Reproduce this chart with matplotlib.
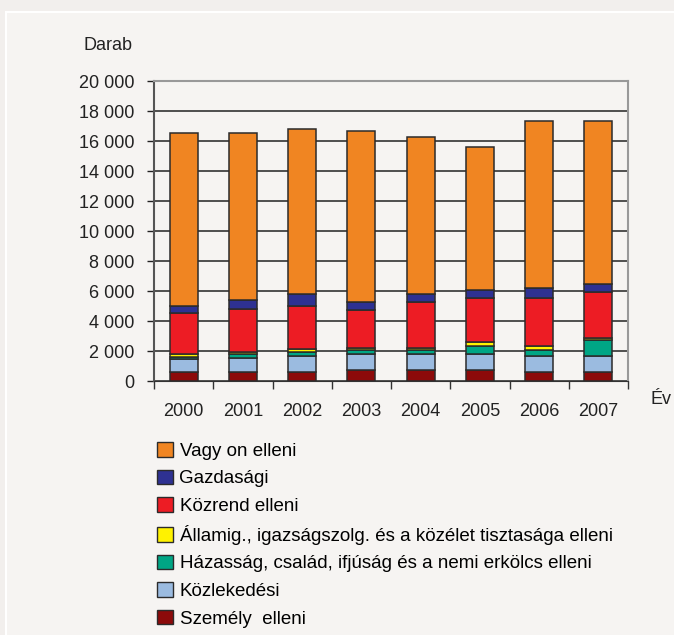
import matplotlib
matplotlib.use('Agg')
import matplotlib.pyplot as plt
from matplotlib.patches import Patch, Rectangle
from matplotlib.ticker import FuncFormatter, FixedLocator

plt.rcParams['font.family'] = ['Liberation Sans', 'DejaVu Sans']

years = ['2000', '2001', '2002', '2003', '2004', '2005', '2006', '2007']

# bottom to top of the stack
szemely = [600, 600, 600, 750, 750, 750, 600, 600]
kozlekedesi = [850, 960, 1090, 1070, 1070, 1070, 1090, 1090]
hazassag = [130, 260, 260, 260, 260, 530, 390, 1070]
allamig = [240, 130, 160, 140, 140, 270, 270, 130]
kozrend = [2690, 2830, 2910, 2530, 3070, 2940, 3210, 3070]
gazdasagi = [510, 620, 800, 540, 530, 530, 660, 530]
vagyon = [11490, 11110, 10960, 11360, 10430, 9490, 11090, 10820]

series = [
    ('Személy  elleni', szemely, '#8c0a0a'),
    ('Közlekedési', kozlekedesi, '#9bbbe0'),
    ('Házasság, család, ifjúság és a nemi erkölcs elleni', hazassag, '#00a685'),
    ('Államig., igazságszolg. és a közélet tisztasága elleni', allamig, '#fff200'),
    ('Közrend elleni', kozrend, '#ed1c24'),
    ('Gazdasági', gazdasagi, '#2e3192'),
    ('Vagy on elleni', vagyon, '#f08522'),
]

bg = '#f6f4f2'
fs = 13
fig = plt.figure(figsize=(6.74, 6.35), dpi=100, facecolor='#f2efed')
fig.patches.append(Rectangle((6 / 674, -0.1), 1.2, 1.1 - 12 / 635, transform=fig.transFigure,
                             facecolor=bg, edgecolor='white', linewidth=1.5, zorder=-1))

ax = fig.add_axes([154 / 674, 0.4, 474 / 674, 300 / 635])
ax.set_facecolor(bg)

x = list(range(len(years)))
bottom = [0] * len(years)
for name, vals, col in series:
    ax.bar(x, vals, bottom=bottom, width=0.47, color=col, edgecolor='#2b2b2b', linewidth=1.1, zorder=3)
    bottom = [b + v for b, v in zip(bottom, vals)]

ax.set_ylim(0, 20000)
ax.set_xlim(-0.5, len(years) - 0.5)
ax.set_yticks(range(0, 20001, 2000))
ax.yaxis.set_major_formatter(FuncFormatter(lambda v, p: f'{int(v):,}'.replace(',', ' ')))
ax.grid(axis='y', color='#333333', linewidth=1.2, zorder=1)
ax.set_xticks(x)
ax.set_xticklabels(years)
ax.xaxis.set_minor_locator(FixedLocator([i - 0.5 for i in range(len(years) + 1)]))
ax.tick_params(axis='x', which='major', length=0, pad=16, labelsize=fs, colors='#222222')
ax.tick_params(axis='x', which='minor', length=6, width=1, color='#333333', direction='out')
ax.tick_params(axis='y', length=5, width=1, pad=9, labelsize=fs, colors='#222222')
for s in ['top', 'right']:
    ax.spines[s].set_color('#999999')
    ax.spines[s].set_linewidth(1.5)
ax.spines['left'].set_color('#555555')
ax.spines['left'].set_linewidth(1.5)
ax.spines['bottom'].set_color('#333333')

fig.text(108 / 674, 1 - 46 / 635, 'Darab', ha='center', va='center', fontsize=fs, color='#222222')
fig.text(651 / 674, 1 - 400 / 635, 'Év', ha='left', va='center', fontsize=fs, color='#222222')

handles = [Patch(facecolor=col, edgecolor='#2b2b2b', label=name) for name, vals, col in series[::-1]]
fig.legend(handles=handles, loc='upper left', bbox_to_anchor=(157 / 674, 1 - 442 / 635),
           frameon=False, fontsize=13.5, handlelength=0.83, handleheight=0.83,
           handletextpad=0.37, labelspacing=0.52, borderaxespad=0, borderpad=0)

fig.savefig('out.png', dpi=100, facecolor=fig.get_facecolor())
